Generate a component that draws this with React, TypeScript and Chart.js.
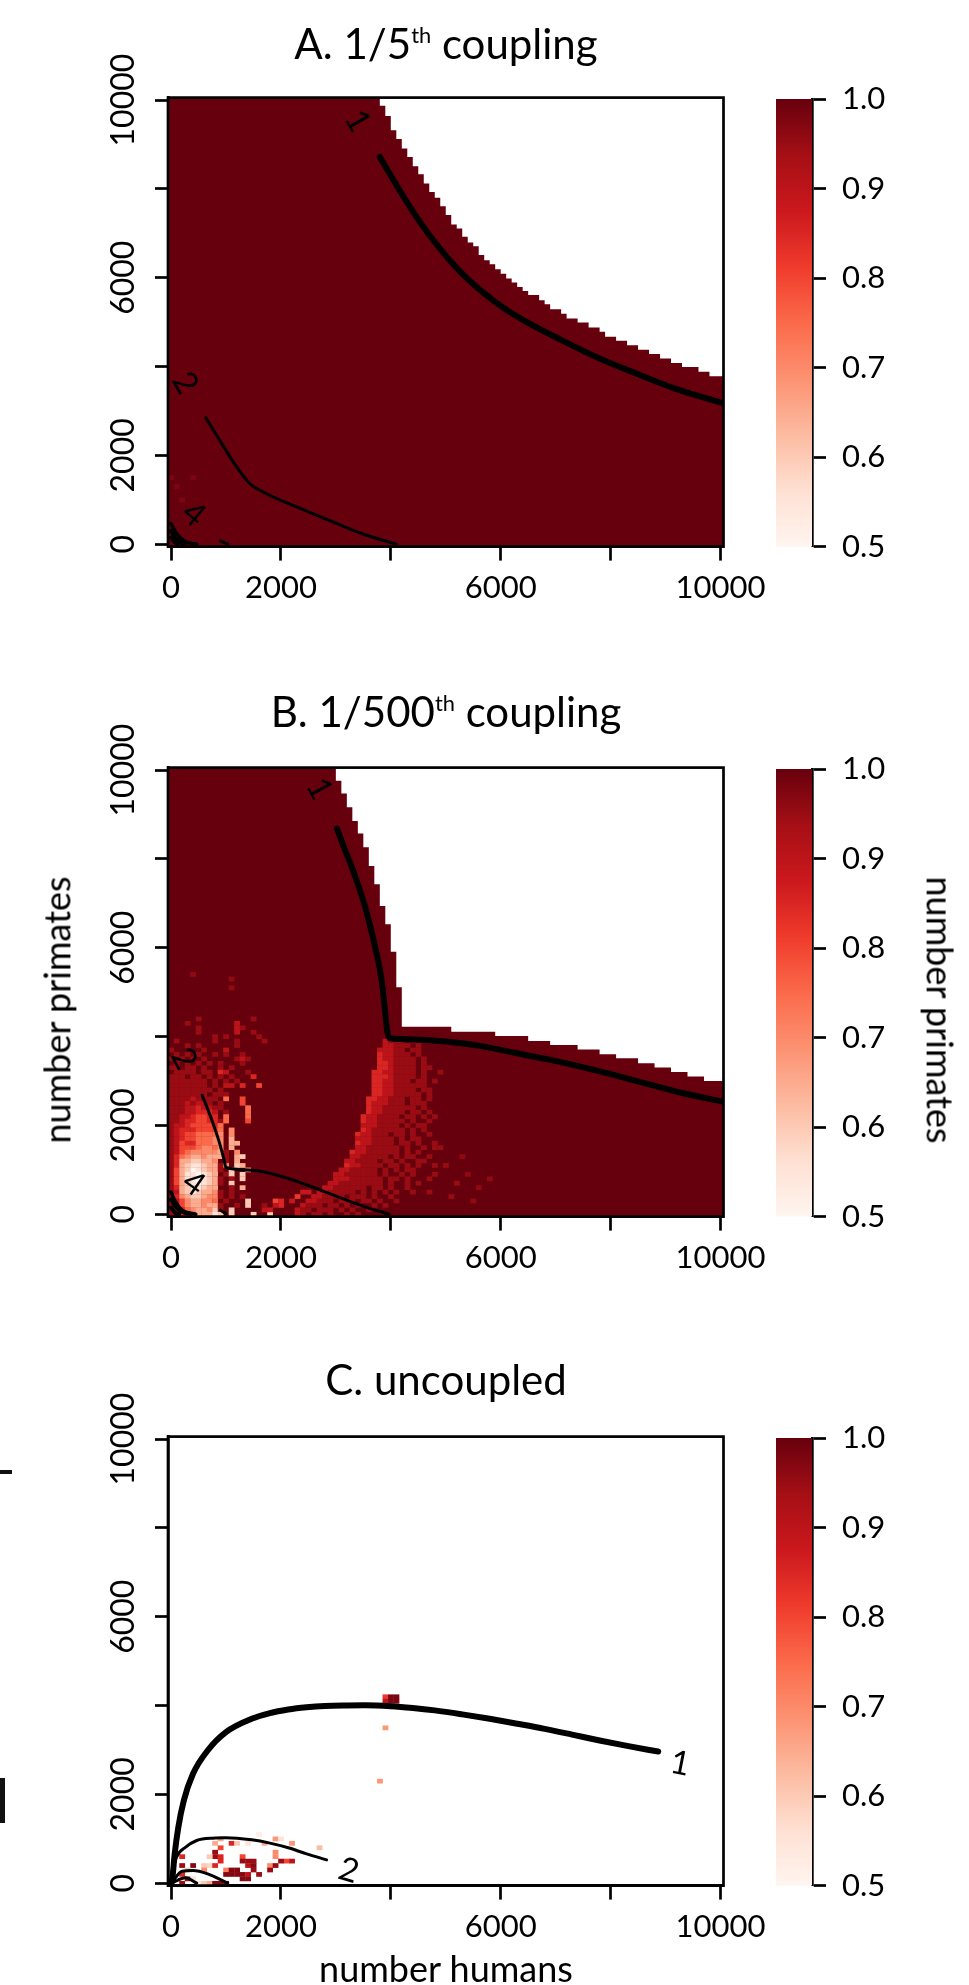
import React, { useEffect, useRef } from "react";
import { Chart, registerables } from "chart.js";
Chart.register(...registerables);

// ---------------- data ----------------
const xTicks = [0, 2000, 4000, 6000, 8000, 10000];
const yTicks = [0, 2000, 4000, 6000, 8000, 10000];
const labeledTicks = [0, 2000, 6000, 10000];
const colorbarTicks = [0.5, 0.6, 0.7, 0.8, 0.9, 1.0];
const REDS = ["#FFF5F0", "#FEE0D2", "#FCBBA1", "#FC9272", "#FB6A4A", "#EF3B2C", "#CB181D", "#A50F15", "#67000D"];
const levelCodes = "0123456789";
const levelValues = [0.5, 0.55, 0.6, 0.65, 0.7, 0.75, 0.8, 0.85, 0.9, 0.95];

// Panel A: upper edge of the filled region (step start x, top y)
const frontierAX = [-55, 3800, 3900, 4000, 4100, 4200, 4300, 4400, 4500, 4600, 4700, 4800, 4900, 5000, 5100, 5200, 5300, 5400, 5500, 5600, 5700, 5800, 5900, 6000, 6100, 6200, 6300, 6400, 6500, 6700, 6800, 6900, 7100, 7200, 7400, 7600, 7800, 7900, 8100, 8300, 8500, 8700, 8900, 9100, 9300, 9600, 9800, 10055];
const frontierAY = [10055, 9870, 9640, 9320, 9120, 8910, 8720, 8510, 8330, 8120, 7930, 7800, 7610, 7410, 7200, 7110, 6920, 6790, 6710, 6510, 6390, 6300, 6190, 6090, 5980, 5890, 5790, 5700, 5610, 5490, 5400, 5290, 5190, 5080, 4990, 4880, 4780, 4670, 4580, 4480, 4380, 4280, 4180, 4080, 3990, 3880, 3780, 3780];
const contourA1 = [[3800, 8720], [4067, 8158], [4467, 7370], [4867, 6694], [5267, 6132], [5667, 5681], [6067, 5306], [6467, 5006], [7133, 4578], [7800, 4180], [8467, 3842], [9133, 3520], [10055, 3170]];
const contourA2 = [[633, 2844], [867, 2379], [1133, 1854], [1433, 1366], [1733, 1141], [2133, 916], [2800, 578], [3467, 240], [4100, 0]];
const contourA3 = [[0, 465], [100, 240], [267, 53], [467, 0]];
const contourA4 = [[0, 300], [70, 150], [150, 50], [250, 0]];
const contourA5 = [[0, 150], [60, 60], [120, 0]];
const contourA6 = [[900, 75], [1033, 0]];
const labelsA = [["1", 3400, 9530, 60], ["2", 253, 3630, 60], ["4", 413, 675, 40]];
const cellsA = [[0, 1500, 0.98], [400, 1500, 0.98], [100, 1300, 0.98], [200, 1000, 0.98]];

// Panel B
const frontierBX = [-55, 3000, 3100, 3200, 3300, 3400, 3500, 3600, 3700, 3800, 3900, 4000, 4100, 4200, 5100, 5900, 6500, 6900, 7400, 7800, 8100, 8500, 8800, 9100, 9400, 9700, 10055];
const frontierBY = [10055, 9760, 9470, 9160, 8850, 8570, 8260, 7840, 7430, 6940, 6530, 5910, 5110, 4220, 4110, 4010, 3900, 3810, 3710, 3600, 3510, 3400, 3300, 3200, 3100, 3000, 3000];
const contourB1 = [[3020, 8683], [3133, 8308], [3333, 7670], [3533, 6919], [3700, 6094], [3833, 5268], [3900, 4518], [3933, 4143], [3980, 3960], [4436, 3934], [5042, 3881], [5648, 3784], [6255, 3633], [6861, 3484], [7467, 3318], [8073, 3131], [8679, 2928], [9285, 2733], [10055, 2530]];
const contourB2 = [[567, 2679], [733, 2154], [867, 1666], [967, 1216], [1000, 1051], [1467, 991], [2133, 803], [2800, 503], [3533, 165], [3967, 0]];
const contourB3 = [[0, 500], [80, 280], [200, 90], [450, 0]];
const contourB4 = [[0, 330], [100, 140], [250, 30], [350, 0]];
const contourB5 = [[0, 150], [60, 50], [150, 0]];
const contourB6 = [[900, 90], [1000, 10]];
const labelsB = [["1", 2700, 9580, 62], ["2", 233, 3500, 62], ["4", 413, 690, 35]];
// rows of cells: [y, first x, level codes per 100-wide cell; "." = no cell]
const lowerLeftB = [
  [4300, 0, "...9........8"],
  [4200, 0, ".....9......8"],
  [4100, 0, ".....9......8..9"],
  [4000, 0, "........9.9"],
  [3900, 0, ".9......9...9....9"],
  [3800, 0, "...9.9......9"],
  [3700, 0, "9.....9...8"],
  [3600, 0, ".9.9.9..9.9..9"],
  [3500, 0, "9.9.9.9.....989"],
  [3400, 0, ".9.9.9.9.9...9"],
  [3300, 0, "99.99.9..9.9"],
  [3200, 0, ".9999.99.78...9"],
  [3100, 0, "999.99.9.9.9...7"],
  [3000, 0, "9999999.9.9.9"],
  [2900, 0, "9999999.9.88.7..6"],
  [2800, 0, "99999999.9"],
  [2700, 0, "9999999.999"],
  [2600, 0, "999989999.5..6"],
  [2500, 0, "99989889.9...6"],
  [2400, 0, "9998878899....5"],
  [2300, 0, "999887778.9...5"],
  [2200, 0, "998876677.5...5"],
  [2100, 0, "99877667795...6"],
  [2000, 0, "9887666675"],
  [1900, 0, "9877766665.4"],
  [1800, 0, "9876655554.4"],
  [1700, 0, "9876655544.3"],
  [1600, 0, "9867755544.33"],
  [1500, 0, "9866654454.3"],
  [1400, 0, "98654444439.4"],
  [1300, 0, "97543343339.32"],
  [1200, 0, "973322334.9.3"],
  [1100, 0, "97321123394.23"],
  [1000, 0, "9632012339.2..4"],
  [900, 0, "963110123.92.2"],
  [800, 0, "9631001239.9.2"],
  [700, 0, "9632101239.2"],
  [600, 0, "973211233..9.3"],
  [500, 0, "9832123349.9"],
  [400, 0, "9743223449.9.9"],
  [300, 0, "986433445.9...2"],
  [200, 0, "9764334339..9.2..9"],
  [100, 0, "9875433429.2"],
  [0, 0, "9.76633312.2...2..2"],
];
const bandB = [
  [3900, 3900, "8999.9"],
  [3800, 3900, "88999.9"],
  [3700, 3800, "88899.99"],
  [3600, 3800, "788999.9"],
  [3500, 3800, "7889999.9"],
  [3400, 3800, "7789999.9"],
  [3300, 3800, "7789999.99"],
  [3200, 3700, "77889999.9..9"],
  [3100, 3700, "77789999.9"],
  [3000, 3700, "7788999.99.9"],
  [2900, 3700, "7788999999"],
  [2800, 3700, "77889999.99"],
  [2700, 3700, "778899999.9"],
  [2600, 3600, "7788999.99.9"],
  [2500, 3600, "7888999.999"],
  [2400, 3600, "788999999.9"],
  [2300, 3600, "7889999.99.9"],
  [2200, 3500, "7889999.99.9.9"],
  [2100, 3500, "78899999.9..9"],
  [2000, 3500, "8889999.9.99"],
  [1900, 3500, "78999999.9.9"],
  [1800, 3400, "788999.99.9..9"],
  [1700, 3400, "8889999.9.99"],
  [1600, 3400, "7889999.99.9..9"],
  [1500, 3400, "88999999.9..9.9"],
  [1400, 3300, "788999999.9.9"],
  [1300, 3300, "8899999.9.99..9"],
  [1200, 3200, "889999.99.9..9"],
  [1100, 3200, "7889999.99.9.9..9"],
  [1000, 3100, "8899999.9.9.99"],
  [900, 3000, "88999999.9..9.9"],
  [800, 3000, "888999999.99.9...9"],
  [700, 2900, "8899999999.9..9.9"],
  [600, 2800, "88999999.99.9..9"],
  [500, 2700, "8899999.9.9.9.9..9"],
  [400, 2600, "889999.999.9..9"],
  [300, 2500, "88999.999.99.9..9"],
  [200, 2400, "8999.99.9.9..9.9"],
  [100, 2300, "899.999.9.9..9"],
  [0, 2300, "89.99.9..9.9"],
];
const extraCellsB = [
  [400, 5400, 0.96], [1100, 5300, 0.96], [1100, 5100, 0.96], [500, 4400, 0.95], [1300, 4200, 0.95], [1500, 4400, 0.95], [1600, 4000, 0.95],
  [1700, 100, 0.9], [1800, 100, 0.88], [1900, 300, 0.8], [2000, 300, 0.85], [2000, 200, 0.85], [2200, 300, 0.88], [1900, 200, 0.9], [2300, 400, 0.82], [2400, 500, 0.88], [2500, 500, 0.88],
  [4600, 1200, 0.95], [4800, 900, 0.95], [5000, 1100, 0.95], [5200, 700, 0.95], [5400, 900, 0.96], [5600, 600, 0.96], [5800, 800, 0.96], [4700, 500, 0.95], [5100, 400, 0.95], [5500, 300, 0.96], [4900, 1500, 0.95], [5300, 1300, 0.96],
];

// Panel C
const contourC1 = [[10, 0], [33, 210], [67, 660], [133, 1261], [233, 1861], [400, 2462], [667, 2987], [1000, 3400], [1467, 3700], [1800, 3830], [2133, 3910], [2467, 3960], [2800, 3990], [3200, 4002], [3533, 4005], [4000, 3985], [4400, 3945], [4800, 3890], [5300, 3800], [5800, 3700], [6300, 3590], [6800, 3475], [7300, 3345], [7800, 3212], [8300, 3090], [8867, 2964]];
const contourC2 = [[10, 0], [33, 285], [100, 585], [267, 810], [467, 961], [800, 1015], [1000, 1025], [1467, 976], [1800, 901], [2133, 796], [2467, 660], [2833, 525]];
const contourC3 = [[10, 0], [200, 270], [400, 285], [667, 210], [1033, 0]];
const contourC4 = [[10, 0], [267, 120], [467, 0]];
const labelsC = [["1", 9267, 2690, 11], ["2", 3233, 285, 17]];
const cellsC = [
  [3900, 4200, 0.82], [3900, 4100, 0.9], [4000, 4200, 0.98], [4000, 4100, 0.98], [4100, 4200, 0.98], [4100, 4100, 0.98],
  [3900, 3500, 0.68], [3800, 2300, 0.68],
  [900, 1000, 0.65], [1600, 1100, 0.52], [1900, 1000, 0.68], [2000, 1000, 0.55], [2200, 900, 0.68], [2700, 800, 0.62],
  [800, 900, 0.65], [1100, 900, 0.85], [1200, 900, 0.6], [1400, 900, 0.55], [1700, 900, 0.65],
  [900, 800, 0.8], [1900, 700, 0.7], [800, 700, 0.95], [800, 600, 0.95], [900, 600, 0.85], [700, 600, 0.6], [1300, 600, 0.8], [1900, 600, 0.7], [200, 600, 0.85],
  [1400, 500, 0.95], [1500, 500, 0.95], [2100, 500, 0.8], [2200, 500, 0.9], [2000, 500, 0.95], [900, 500, 0.85], [1300, 500, 0.95],
  [200, 400, 0.95], [400, 400, 0.97], [600, 400, 0.6], [700, 400, 0.58], [800, 400, 0.85], [1400, 400, 0.9], [1500, 400, 0.97], [1800, 400, 0.7], [1900, 400, 0.95],
  [300, 300, 0.6], [600, 300, 0.7], [1000, 300, 0.72], [1100, 300, 0.97], [1200, 300, 0.97], [1500, 300, 0.95], [1800, 300, 0.95],
  [200, 200, 0.85], [1000, 200, 0.97], [1100, 200, 0.97], [1200, 200, 0.97], [1300, 200, 0.97], [1400, 200, 0.9], [1600, 200, 0.95],
  [300, 100, 0.95], [400, 100, 0.55], [1300, 100, 0.97], [1400, 100, 0.97],
  [200, 0, 0.95], [500, 0, 0.55], [600, 0, 0.6], [700, 0, 0.65], [800, 0, 0.97], [900, 0, 0.97], [1000, 0, 0.97],
];

// ---------------- helpers ----------------
const FONT = '"Lato", "Open Sans", sans-serif';
const CW = 790; // main canvas width
const CH = 620; // canvas height
const PAD_TOP = 97.6;
const AREA_H = 449;
const AREA_LEFT = 168;
const AREA_RIGHT = 723.5;
const CBW = 209;

function hexToRgb(h) {
  return [parseInt(h.slice(1, 3), 16), parseInt(h.slice(3, 5), 16), parseInt(h.slice(5, 7), 16)];
}
function colorFor(v) {
  const t = Math.min(1, Math.max(0, (v - 0.5) / 0.5)) * (REDS.length - 1);
  const i = Math.min(REDS.length - 2, Math.floor(t));
  const f = t - i;
  const a = hexToRgb(REDS[i]);
  const b = hexToRgb(REDS[i + 1]);
  const c = a.map((av, k) => Math.round(av + (b[k] - av) * f));
  return `rgb(${c[0]},${c[1]},${c[2]})`;
}
function decodeRows(rows) {
  const out = [];
  rows.forEach(([y, x0, codes]) => {
    for (let i = 0; i < codes.length; i++) {
      const k = levelCodes.indexOf(codes[i]);
      if (k >= 0) out.push([x0 + i * 100, y, levelValues[k]]);
    }
  });
  return out;
}

const panels = [
  {
    key: "A",
    top: 0,
    fx: frontierAX,
    fy: frontierAY,
    contours: [
      { pts: contourA1, w: 6 },
      { pts: contourA2, w: 3 },
      { pts: contourA3, w: 3.5 },
      { pts: contourA4, w: 4 },
      { pts: contourA5, w: 4 },
      { pts: contourA6, w: 3 },
    ],
    labels: labelsA,
    cells: cellsA,
  },
  {
    key: "B",
    top: 670,
    fx: frontierBX,
    fy: frontierBY,
    contours: [
      { pts: contourB1, w: 6 },
      { pts: contourB2, w: 3 },
      { pts: contourB3, w: 3.5 },
      { pts: contourB4, w: 4 },
      { pts: contourB5, w: 4 },
      { pts: contourB6, w: 3 },
    ],
    labels: labelsB,
    cells: [...decodeRows(lowerLeftB), ...decodeRows(bandB), ...extraCellsB],
  },
  {
    key: "C",
    top: 1338.7,
    fx: [],
    fy: [],
    contours: [
      { pts: contourC1, w: 6 },
      { pts: contourC2, w: 3 },
      { pts: contourC3, w: 3 },
      { pts: contourC4, w: 3 },
    ],
    labels: labelsC,
    cells: cellsC,
  },
];

function mainConfig(p) {
  const datasets = [
    {
      type: "line",
      data: p.fx.map((x, i) => ({ x, y: p.fy[i] })),
      stepped: true,
      fill: "start",
      backgroundColor: REDS[REDS.length - 1],
      borderWidth: 0,
      borderColor: "rgba(0,0,0,0)",
      pointRadius: 0,
      order: 10,
    },
    ...p.contours.map((c) => ({
      type: "line",
      data: c.pts.map(([x, y]) => ({ x, y })),
      borderColor: "#000",
      borderWidth: c.w,
      borderCapStyle: "round",
      borderJoinStyle: "round",
      pointRadius: 0,
      fill: false,
      cubicInterpolationMode: "monotone",
      order: 0,
    })),
  ];
  const cellsPlugin = {
    id: "cells" + p.key,
    afterDatasetDraw(chart, args) {
      if (args.index !== 0) return;
      const { ctx, chartArea: a } = chart;
      const xs = chart.scales.x;
      const ys = chart.scales.y;
      ctx.save();
      ctx.beginPath();
      ctx.rect(a.left, a.top, a.right - a.left, a.bottom - a.top);
      ctx.clip();
      p.cells.forEach(([cx, cy, v]) => {
        const x0 = xs.getPixelForValue(cx - 50);
        const x1 = xs.getPixelForValue(cx + 50);
        const y0 = ys.getPixelForValue(cy + 50);
        const y1 = ys.getPixelForValue(cy - 50);
        ctx.fillStyle = colorFor(v);
        ctx.fillRect(x0, y0, x1 - x0 + 0.3, y1 - y0 + 0.3);
      });
      ctx.restore();
    },
  };
  const decoPlugin = {
    id: "deco" + p.key,
    afterDraw(chart) {
      const { ctx, chartArea: a } = chart;
      const xs = chart.scales.x;
      const ys = chart.scales.y;
      ctx.save();
      ctx.strokeStyle = "#000";
      ctx.lineWidth = 2.7;
      ctx.strokeRect(a.left, a.top, a.right - a.left, a.bottom - a.top);
      // contour labels
      ctx.fillStyle = "#000";
      ctx.font = `400 33px ${FONT}`;
      ctx.textAlign = "center";
      ctx.textBaseline = "middle";
      p.labels.forEach(([t, x, y, rot]) => {
        ctx.save();
        ctx.translate(xs.getPixelForValue(x), ys.getPixelForValue(y));
        ctx.rotate((rot * Math.PI) / 180);
        ctx.fillText(t, 0, 0);
        ctx.restore();
      });
      // y tick labels (rotated like R)
      ctx.font = `32px ${FONT}`;
      ctx.textAlign = "center";
      ctx.textBaseline = "alphabetic";
      labeledTicks.forEach((v) => {
        ctx.save();
        ctx.translate(134, ys.getPixelForValue(v));
        ctx.rotate(-Math.PI / 2);
        ctx.fillText(String(v), 0, 0);
        ctx.restore();
      });
      ctx.restore();
    },
  };
  return {
    type: "scatter",
    data: { datasets },
    options: {
      animation: false,
      responsive: false,
      devicePixelRatio: 1,
      layout: { padding: { top: PAD_TOP, right: CW - AREA_RIGHT, left: 0, bottom: 0 } },
      plugins: { legend: { display: false }, tooltip: { enabled: false } },
      scales: {
        x: {
          type: "linear",
          min: -55,
          max: 10055,
          position: "bottom",
          afterBuildTicks: (s) => {
            s.ticks = xTicks.map((v) => ({ value: v }));
          },
          afterFit: (s) => {
            s.height = CH - (PAD_TOP + AREA_H);
          },
          ticks: {
            callback: (v) => (labeledTicks.includes(v) ? String(v) : ""),
            font: { family: FONT, size: 31 },
            color: "#000",
            padding: 9,
            maxRotation: 0,
            minRotation: 0,
            autoSkip: false,
          },
          grid: { display: true, drawOnChartArea: false, drawTicks: true, tickLength: 14, tickWidth: 2.7, tickColor: "#000" },
          border: { display: true, color: "#000", width: 2.7 },
        },
        y: {
          type: "linear",
          min: -55,
          max: 10055,
          position: "left",
          afterBuildTicks: (s) => {
            s.ticks = yTicks.map((v) => ({ value: v }));
          },
          afterFit: (s) => {
            s.width = AREA_LEFT;
          },
          ticks: { display: false },
          grid: { display: true, drawOnChartArea: false, drawTicks: true, tickLength: 13, tickWidth: 2.7, tickColor: "#000" },
          border: { display: true, color: "#000", width: 2.7 },
        },
      },
    },
    plugins: [cellsPlugin, decoPlugin],
  };
}

function colorbarConfig() {
  return {
    type: "bar",
    data: {
      labels: [""],
      datasets: [
        {
          data: [[0.5, 1.0]],
          backgroundColor: (c) => {
            const ch = c.chart;
            const a = ch.chartArea;
            if (!a) return REDS[REDS.length - 1];
            const g = ch.ctx.createLinearGradient(0, a.bottom, 0, a.top);
            REDS.forEach((col, i) => g.addColorStop(i / (REDS.length - 1), col));
            return g;
          },
          borderWidth: 0,
          barPercentage: 1,
          categoryPercentage: 1,
        },
      ],
    },
    options: {
      animation: false,
      responsive: false,
      devicePixelRatio: 1,
      layout: { padding: { left: 16, top: PAD_TOP + 1.4, bottom: CH - (PAD_TOP + AREA_H), right: 0 } },
      plugins: { legend: { display: false }, tooltip: { enabled: false } },
      scales: {
        x: { display: false },
        y: {
          position: "right",
          min: 0.5,
          max: 1.0,
          afterBuildTicks: (s) => {
            s.ticks = colorbarTicks.map((v) => ({ value: v }));
          },
          afterFit: (s) => {
            s.width = CBW - 52;
          },
          ticks: { callback: (v) => Number(v).toFixed(1), font: { family: FONT, size: 31 }, color: "#000", padding: 16, autoSkip: false },
          grid: { display: true, drawOnChartArea: false, drawTicks: true, tickLength: 14, tickWidth: 2.7, tickColor: "#000" },
          border: { display: true, color: "#000", width: 2.7 },
        },
      },
    },
  };
}

function ChartCanvas({ left, top, width, height, make }) {
  const ref = useRef(null);
  useEffect(() => {
    const chart = new Chart(ref.current, make());
    return () => chart.destroy();
  }, []);
  return (
    <canvas
      ref={ref}
      width={width}
      height={height}
      style={{ position: "absolute", left, top, width, height, display: "block" }}
    />
  );
}

const titleStyle = (baseline) => ({
  position: "absolute",
  left: 0,
  width: 892,
  top: baseline - 0.987 * 42,
  textAlign: "center",
  fontFamily: FONT,
  fontSize: 42,
  lineHeight: 1.2,
  color: "#000",
  whiteSpace: "nowrap",
});
const supStyle = { fontSize: "0.52em", lineHeight: 0, verticalAlign: "0.75em" };

export default function App() {
  return (
    <div style={{ position: "absolute", left: 0, top: 0, width: 969, height: 1985, background: "#fff", overflow: "hidden" }}>
      {panels.map((p) => (
        <React.Fragment key={p.key}>
          <ChartCanvas left={0} top={p.top} width={CW} height={CH} make={() => mainConfig(p)} />
          <ChartCanvas left={760} top={p.top} width={CBW} height={CH} make={() => colorbarConfig()} />
        </React.Fragment>
      ))}
      <div style={titleStyle(59)}>
        A. 1/5<sup style={supStyle}>th</sup> coupling
      </div>
      <div style={titleStyle(727.5)}>
        B. 1/500<sup style={supStyle}>th</sup> coupling
      </div>
      <div style={titleStyle(1395)}>C. uncoupled</div>
      <div
        style={{
          position: "absolute",
          left: 0,
          width: 892,
          top: 1983 - 0.987 * 36,
          textAlign: "center",
          fontFamily: FONT,
          fontSize: 36,
          lineHeight: 1.2,
          whiteSpace: "nowrap",
        }}
      >
        number humans
      </div>
      <div
        style={{
          position: "absolute",
          left: 57,
          top: 1010,
          transform: "translate(-50%, -50%) rotate(-90deg)",
          fontFamily: FONT,
          fontSize: 36,
          lineHeight: 1.2,
          whiteSpace: "nowrap",
        }}
      >
        number primates
      </div>
      <div
        style={{
          position: "absolute",
          left: 940,
          top: 1010,
          transform: "translate(-50%, -50%) rotate(90deg)",
          fontFamily: FONT,
          fontSize: 36,
          lineHeight: 1.2,
          whiteSpace: "nowrap",
        }}
      >
        number primates
      </div>
      <div style={{ position: "absolute", left: 0, top: 1470, width: 12, height: 3.5, background: "#111" }} />
      <div style={{ position: "absolute", left: 0, top: 1778, width: 5, height: 45, background: "#111" }} />
    </div>
  );
}
